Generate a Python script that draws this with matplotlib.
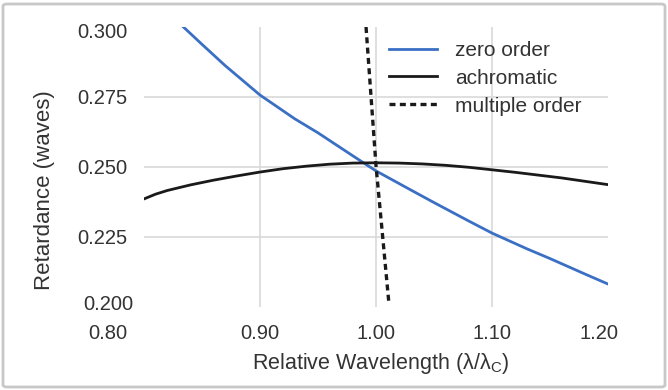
import matplotlib
matplotlib.use("Agg")
import matplotlib.pyplot as plt
import matplotlib.transforms as mtransforms
from matplotlib.patches import FancyBboxPatch

plt.rcParams['font.family'] = ['Liberation Sans', 'DejaVu Sans']
plt.rcParams['mathtext.fontset'] = 'custom'
plt.rcParams['mathtext.rm'] = 'Liberation Sans'
plt.rcParams['mathtext.it'] = 'Liberation Sans:italic'

# data
zero_x = [0.834, 0.85, 0.87, 0.90, 0.93, 0.95, 0.98, 1.00, 1.03, 1.05, 1.08, 1.10, 1.13, 1.15, 1.18, 1.20]
zero_y = [0.300, 0.2938, 0.2862, 0.2757, 0.2672, 0.2622, 0.2540, 0.2486, 0.2418, 0.2373, 0.2307, 0.2264, 0.2208, 0.2173, 0.2118, 0.2082]
achro_x = [0.80, 0.81, 0.82, 0.84, 0.86, 0.88, 0.90, 0.92, 0.94, 0.96, 0.98, 1.00,
           1.02, 1.04, 1.06, 1.08, 1.10, 1.12, 1.14, 1.16, 1.18, 1.20]
achro_y = [0.2386, 0.2403, 0.2416, 0.2436, 0.2453, 0.2468, 0.2482, 0.2494, 0.2503, 0.2510, 0.2514, 0.2515,
           0.2514, 0.2511, 0.2506, 0.2499, 0.2490, 0.2481, 0.2471, 0.2461, 0.2449, 0.2437]
multi_x = [0.9914, 1.000, 1.0112]
multi_y = [0.300, 0.2505, 0.201]
xticks = [0.80, 0.90, 1.00, 1.10, 1.20]
yticks = [0.200, 0.225, 0.250, 0.275, 0.300]

fig = plt.figure(figsize=(6.68, 3.90), dpi=100)
ax = fig.add_axes([144/668, 1-307/390, (608-144)/668, (307-27)/390])

grid_c = '#d9d9d9'
for xv in xticks[1:-1]:
    ax.axvline(xv, color=grid_c, lw=1.2, zorder=0)
for yv in yticks[1:-1]:
    ax.axhline(yv, color=grid_c, lw=1.2, zorder=0)

ax.plot(zero_x, zero_y, color='#3a6fc4', lw=2.0, label='zero order', zorder=3)
ax.plot(achro_x, achro_y, color='#1a1a1a', lw=2.0, label='achromatic', zorder=3)
ax.plot(multi_x, multi_y, color='#1a1a1a', lw=2.4, ls=(0, (1.8, 1.3)), label='multiple order', zorder=4)

ax.set_xlim(0.80, 1.20)
ax.set_ylim(0.200, 0.300)
ax.set_xticks(xticks)
ax.set_xticklabels([f'{v:.2f}' for v in xticks])
ax.set_yticks(yticks)
ax.set_yticklabels([f'{v:.3f}' for v in yticks])
ax.tick_params(length=0, labelsize=14.5, colors='#333333', pad=12)
ax.tick_params(axis='x', pad=12)
for s in ax.spines.values():
    s.set_visible(False)

# label nudges as in reference
xl = ax.get_xticklabels()
xl[0].set_transform(xl[0].get_transform() + mtransforms.ScaledTranslation(-36/100, 0, fig.dpi_scale_trans))
xl[-1].set_transform(xl[-1].get_transform() + mtransforms.ScaledTranslation(-9/100, 0, fig.dpi_scale_trans))
yl = ax.get_yticklabels()
yl[0].set_transform(yl[0].get_transform() + mtransforms.ScaledTranslation(6/100, 4/100, fig.dpi_scale_trans))
yl[-1].set_transform(yl[-1].get_transform() + mtransforms.ScaledTranslation(0, -3/100, fig.dpi_scale_trans))

fig.text(381/668, 1-364/390, 'Relative Wavelength (λ/λ$_{\\rm C}$)', fontsize=15.5,
         color='#333333', ha='center', va='center')
fig.text(45/668, 1-190/390, 'Retardance (waves)', fontsize=16, color='#333333',
         ha='center', va='center', rotation=90)

leg = ax.legend(loc='upper left', bbox_to_anchor=(389/668, 1-41/390), bbox_transform=fig.transFigure,
                frameon=False, fontsize=15, borderpad=0, borderaxespad=0,
                handlelength=2.3, handletextpad=0.87, labelspacing=0.42, labelcolor='#333333')

border = FancyBboxPatch((3/668, 3/390), 1-6/668, 1-7/390, boxstyle='round,pad=0,rounding_size=0.006',
                        transform=fig.transFigure, fill=False, edgecolor='#c8c8c8', lw=2.0)
fig.patches.append(border)

fig.savefig('out.png', dpi=100)
